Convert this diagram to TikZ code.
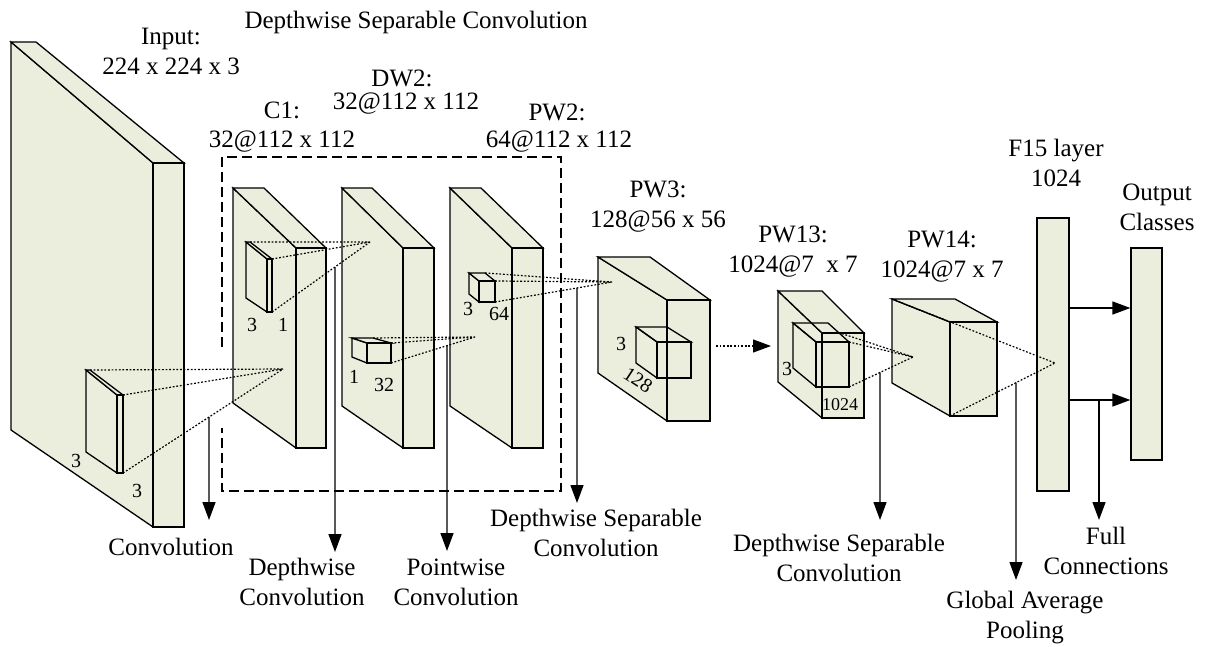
\documentclass[tikz,border=0pt]{standalone}
\usepackage{fontspec}
\setmainfont{Liberation Serif}
\usetikzlibrary{arrows.meta,calc}
\definecolor{layerfill}{RGB}{235,238,221}

% Oblique box: name, back-top-left x/y, back width, front-top-left x/y,
% front width, front bottom y, side bottom y
\newcommand\cuboid[9]{%
  \coordinate (#1-btl) at (#2,#3);
  \coordinate (#1-btr) at (#2+#4,#3);
  \coordinate (#1-ftl) at (#5,#6);
  \coordinate (#1-ftr) at (#5+#7,#6);
  \coordinate (#1-fbl) at (#5,#8);
  \coordinate (#1-fbr) at (#5+#7,#8);
  \coordinate (#1-sbl) at (#2,#9);
  \path[face] (#1-btl) -- (#1-ftl) -- (#1-fbl) -- (#1-sbl) -- cycle;
  \path[face] (#1-btl) -- (#1-btr) -- (#1-ftr) -- (#1-ftl) -- cycle;
  \path[face] (#1-ftl) -- (#1-ftr) -- (#1-fbr) -- (#1-fbl) -- cycle;
}

\tikzset{
  face/.style={draw=black, fill=layerfill, line width=1.3pt},
  wire/.style={draw=black, line width=1.3pt},
  dotline/.style={draw=black, line width=1.2pt, dash pattern=on 1.8pt off 1.8pt},
  frame/.style={draw=black, line width=1.4pt, dash pattern=on 10pt off 5pt},
  arrow/.style={draw=black, line width=1.4pt, -{Triangle[length=18pt,width=13pt]}},
  lbl/.style={font=\fontsize{25}{30}\selectfont, inner sep=0pt, align=center},
  dim/.style={font=\fontsize{20}{24}\selectfont, inner sep=0pt},
}

\begin{document}
\begin{tikzpicture}[x=1pt,y=-1pt]
\path[use as bounding box] (0,0) rectangle (1206,647);

% feature maps
\cuboid{in}{11}{42}{25}{153}{163}{31}{527}{430}
\cuboid{kin}{86}{370}{4}{117}{395}{6}{473}{452}
\cuboid{c1}{233}{188}{31}{296}{248}{30}{448}{403}
\cuboid{kc1}{246}{242}{4}{267}{259}{5}{312}{298}
\cuboid{dw2}{342}{188}{30}{403}{248}{31}{448}{406}
\cuboid{kdw2}{352}{338}{21}{367}{343}{24}{363}{357}
\cuboid{pw2}{450}{188}{31}{512}{248}{31}{448}{406}
\cuboid{kpw2}{469}{273}{16}{479}{281}{16}{302}{294}
\cuboid{pw3}{598}{257}{52}{667}{300}{43}{421}{373}
\cuboid{pw13}{778}{291}{44}{822}{333}{42}{418}{382}
\cuboid{pw14}{892}{299}{63}{950}{322}{47}{416}{383}
\begin{scope}[face/.style={wire}]
  \cuboid{kpw3}{636}{327}{31}{657}{342}{34}{378}{363}
  \cuboid{kpw13}{793}{323}{35}{816}{342}{33}{387}{368}
\end{scope}

% fully connected layers
\node[face, inner sep=0pt, minimum width=32pt, minimum height=273pt] (f15) at (1053,354.5) {};
\node[face, inner sep=0pt, minimum width=31pt, minimum height=212pt] (out) at (1146.5,354) {};

% depthwise separable block
\draw[frame] (222,347) -- (222,157) -- (561,157) -- (561,491) -- (222,491) -- (222,428);

% receptive field targets
\coordinate (p-c1) at (283,369);
\coordinate (p-dw2) at (370,242);
\coordinate (p-pw2) at (475,337);
\coordinate (p-pw3) at (612,282);
\coordinate (p-pw14) at (913,357);
\coordinate (p-f15) at (1055,363);

\draw[dotline] (kin-btr) -- (p-c1) (kin-ftr) -- (p-c1) (kin-fbr) -- (p-c1);
\draw[dotline] (kc1-btr) -- (p-dw2) (kc1-ftr) -- (p-dw2) (kc1-fbr) -- (p-dw2);
\draw[dotline] (kdw2-btr) -- (p-pw2) (kdw2-ftr) -- (p-pw2) (kdw2-fbr) -- (p-pw2);
\draw[dotline] (kpw2-btr) -- (p-pw3) (kpw2-ftr) -- (p-pw3) (kpw2-fbr) -- (p-pw3);
\draw[dotline] ($(kpw13-btr)!0.5!(kpw13-ftr)$) -- (p-pw14) (kpw13-ftr) -- (p-pw14) (kpw13-fbr) -- (p-pw14);
\draw[dotline] (pw14-btl) -- (p-f15) (pw14-fbl) -- (p-f15);

% PW3 to PW13
\coordinate (a-pw3) at (716,346);
\coordinate (a-pw13) at (771,346);
\draw[dotline, -{Triangle[length=18pt,width=13pt]}] (a-pw3) -- (a-pw13);

% operation arrows
\coordinate (s-conv) at (intersection cs: first line={(kin-fbr)--(p-c1)}, second line={(209,0)--(209,600)});
\coordinate (t-conv) at (209,520);
\coordinate (s-dw) at (intersection cs: first line={(kc1-fbr)--(p-dw2)}, second line={(335,0)--(335,600)});
\coordinate (t-dw) at (335,552);
\coordinate (s-pw) at (intersection cs: first line={(kdw2-fbr)--(p-pw2)}, second line={(447,0)--(447,600)});
\coordinate (t-pw) at (447,551);
\coordinate (s-dsc) at (intersection cs: first line={(kpw2-fbr)--(p-pw3)}, second line={(577,0)--(577,600)});
\coordinate (t-dsc) at (577,503);
\coordinate (s-dsc2) at (intersection cs: first line={(kpw13-fbr)--(p-pw14)}, second line={(880,0)--(880,600)});
\coordinate (t-dsc2) at (880,520);
\coordinate (s-gap) at (intersection cs: first line={(pw14-fbl)--(p-f15)}, second line={(1016,0)--(1016,600)});
\coordinate (t-gap) at (1016,580);

\draw[arrow] (s-conv) -- (t-conv);
\draw[arrow] (s-dw) -- (t-dw);
\draw[arrow] (s-pw) -- (t-pw);
\draw[arrow] (s-dsc) -- (t-dsc);
\draw[arrow] (s-dsc2) -- (t-dsc2);
\draw[arrow] (s-gap) -- (t-gap);

\coordinate (fc-a) at (1100,308);
\coordinate (fc-b) at (1100,400);
\coordinate (s-fc) at (1099,400);
\coordinate (t-fc) at (1099,520);
\draw[arrow] (f15.east |- fc-a) -- (out.west |- fc-a);
\draw[arrow] (f15.east |- fc-b) -- (out.west |- fc-b);
\draw[arrow] (s-fc) -- (t-fc);

% layer titles
\node[lbl] (t-block) at (416,22) {Depthwise Separable Convolution};
\node[lbl] (t-in) at (171,51) {Input:\\224 x 224 x 3};
\node[lbl] (t-c1a) at (282,110) {C1:};
\node[lbl] (t-c1b) at (282,142) {32@112 x 112};
\node[lbl] (t-dw2a) at (402,78) {DW2:};
\node[lbl] (t-dw2b) at (406,104) {32@112 x 112};
\node[lbl] (t-pw2a) at (557,112) {PW2:};
\node[lbl] (t-pw2b) at (559,142) {64@112 x 112};
\node[lbl] (t-pw3) at (658,207) {PW3:\\128@56 x 56};
\node[lbl] (t-pw13) at (793,252) {PW13:\\1024@7~ x 7};
\node[lbl] (t-pw14) at (942,257) {PW14:\\1024@7 x 7};
\node[lbl] (t-f15) at (1056,163) {F15 layer\\1024};
\node[lbl] (t-out) at (1157,207) {Output\\Classes};

% kernel sizes
\node[dim] (d-in1) at (76,461) {3};
\node[dim] (d-in2) at (137,491) {3};
\node[dim] (d-c1a) at (252,325) {3};
\node[dim] (d-c1b) at (283,325) {1};
\node[dim] (d-dw2a) at (354,377) {1};
\node[dim] (d-dw2b) at (384,385) {32};
\node[dim] (d-pw2a) at (468,309) {3};
\node[dim] (d-pw2b) at (499,314) {64};
\node[dim] (d-pw3a) at (621,344) {3};
\node[dim, rotate=-33] (d-pw3b) at (638,380) {128};
\node[dim] (d-pw13a) at (787,369) {3};
\node[dim, font=\fontsize{18}{22}\selectfont] (d-pw13b) at (840,405) {1024};

% operation labels
\node[lbl] (o-conv) at (171,547) {Convolution};
\node[lbl] (o-dw) at (302,582) {Depthwise\\Convolution};
\node[lbl] (o-pw) at (456,582) {Pointwise\\Convolution};
\node[lbl] (o-dsc) at (596,533) {Depthwise Separable\\Convolution};
\node[lbl] (o-dsc2) at (839,558) {Depthwise Separable\\Convolution};
\node[lbl] (o-gap) at (1025,618) {Global Average\\Pooling};
\node[lbl] (o-fc) at (1106,551) {Full\\Connections};
\end{tikzpicture}
\end{document}
